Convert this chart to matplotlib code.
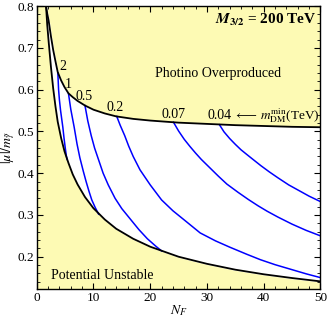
import numpy as np
import matplotlib
matplotlib.use("Agg")
import matplotlib.pyplot as plt
from matplotlib.ticker import MultipleLocator

plt.rcParams['font.family'] = 'Liberation Serif'
plt.rcParams['mathtext.fontset'] = 'stix'

# boundary curves
n_bound = [1.64, 1.85, 2.1, 2.5, 2.9, 3.3, 3.7, 4.3, 4.9, 5.6, 6.35, 7.2, 8.5,
           10, 12, 14, 17, 20, 25, 30, 35, 40, 45, 50]
upper = [0.800, 0.782, 0.765, 0.728, 0.695, 0.668, 0.642, 0.622, 0.606, 0.591,
         0.582, 0.573, 0.562, 0.552, 0.543, 0.536, 0.530, 0.526, 0.521, 0.518,
         0.515, 0.513, 0.511, 0.510]
lower = [0.800, 0.755, 0.715, 0.655, 0.603, 0.560, 0.523, 0.484, 0.452, 0.424,
         0.397, 0.373, 0.343, 0.316, 0.289, 0.267, 0.243, 0.224, 0.200, 0.183,
         0.169, 0.158, 0.149, 0.141]

# m_DM^min contours (TeV)
contour_labels = ['2', '1', '0.5', '0.2', '0.07', '0.04']
contour_n = [
    [3.72, 3.85, 4.0, 4.2, 4.4, 4.6, 4.8, 5.0, 5.2, 5.35],
    [5.6, 6.0, 6.6, 7.1, 7.6, 8.2, 8.7, 9.2, 9.7, 10.3, 10.9],
    [8.5, 9.0, 9.6, 10.2, 10.9, 11.7, 12.6, 13.8, 15.0, 16.5, 18.0, 19.5, 21.0, 22.0],
    [14.1, 14.7, 15.5, 16.2, 17.0, 18.2, 20.0, 22.0, 24.0, 26.0, 28.8, 31.5, 34.0,
     37.0, 39.4, 42.0, 45.0, 47.5, 50.0],
    [24.1, 25.0, 26.0, 27.0, 28.0, 29.0, 30.5, 32.0, 33.5, 35.5, 37.3, 39.0, 40.6,
     42.5, 45.0, 47.5, 50.0],
    [32.2, 33.0, 34.0, 35.0, 36.0, 37.0, 38.2, 39.5, 41.0, 42.5, 44.4, 46.0, 48.0, 50.0],
]
contour_mu = [
    [0.640, 0.600, 0.575, 0.550, 0.530, 0.510, 0.485, 0.463, 0.443, 0.433],
    [0.590, 0.553, 0.510, 0.470, 0.437, 0.405, 0.380, 0.357, 0.336, 0.318, 0.302],
    [0.562, 0.525, 0.490, 0.460, 0.432, 0.400, 0.372, 0.340, 0.315, 0.290, 0.265,
     0.243, 0.225, 0.214],
    [0.536, 0.515, 0.490, 0.465, 0.440, 0.408, 0.372, 0.336, 0.310, 0.288, 0.257,
     0.238, 0.223, 0.206, 0.193, 0.181, 0.169, 0.159, 0.150],
    [0.522, 0.501, 0.481, 0.464, 0.448, 0.433, 0.413, 0.393, 0.374, 0.354, 0.337,
     0.322, 0.309, 0.295, 0.278, 0.263, 0.250],
    [0.516, 0.499, 0.483, 0.469, 0.456, 0.445, 0.432, 0.418, 0.403, 0.389, 0.372,
     0.360, 0.345, 0.332],
]
label_pos = [(4.6, 0.655), (5.5, 0.612), (8.4, 0.583), (13.8, 0.557),
             (24.1, 0.541), (32.2, 0.537)]

yellow = '#fdfab4'

fig = plt.figure(figsize=(3.28, 3.21), dpi=100)
ax = fig.add_axes([0.112, 0.1, 0.865, 0.881])
ax.set_facecolor(yellow)

ax.fill_between(n_bound, lower, upper, color='white', zorder=1)
ax.plot(n_bound, upper, color='black', lw=1.3, zorder=3)
ax.plot(n_bound, lower, color='black', lw=1.3, zorder=3)

for xs, ys in zip(contour_n, contour_mu):
    ax.plot(xs, ys, color='blue', lw=1.1, zorder=2)

for lab, (x, y) in zip(contour_labels, label_pos):
    ax.text(x, y, lab, fontsize=10, ha='center', va='center')

ax.text(34.8, 0.537, r'$\longleftarrow\, m_{\rm DM}^{\rm min}$(TeV)',
        fontsize=9.5, ha='left', va='center')
ax.text(49.3, 0.767, r'$\mathbfit{M}_{\mathbf{3/2}}$ = 200 TeV', fontsize=11,
        fontweight='bold', ha='right', va='center')
ax.text(32, 0.638, 'Photino Overproduced', fontsize=10, ha='center', va='center')
ax.text(11.5, 0.155, 'Potential Unstable', fontsize=10, ha='center', va='center')

ax.set_xlim(0, 50)
ax.set_ylim(0.123, 0.8)
ax.xaxis.set_major_locator(MultipleLocator(10))
ax.xaxis.set_minor_locator(MultipleLocator(2))
ax.yaxis.set_major_locator(MultipleLocator(0.1))
ax.yaxis.set_minor_locator(MultipleLocator(0.02))
ax.tick_params(which='both', direction='in', top=True, right=True,
               labelsize=9.5, pad=2)
ax.tick_params(which='major', length=4, width=0.8)
ax.tick_params(which='minor', length=2, width=0.6)
for s in ax.spines.values():
    s.set_linewidth(1.0)

ax.set_xlabel(r'$N_F$', fontsize=10, labelpad=0)
ax.set_ylabel(r'$|\mu|/m_{\tilde{\gamma}}$', fontsize=10)
ax.yaxis.set_label_coords(-0.068, 0.5)

fig.savefig('out.png', dpi=100)
